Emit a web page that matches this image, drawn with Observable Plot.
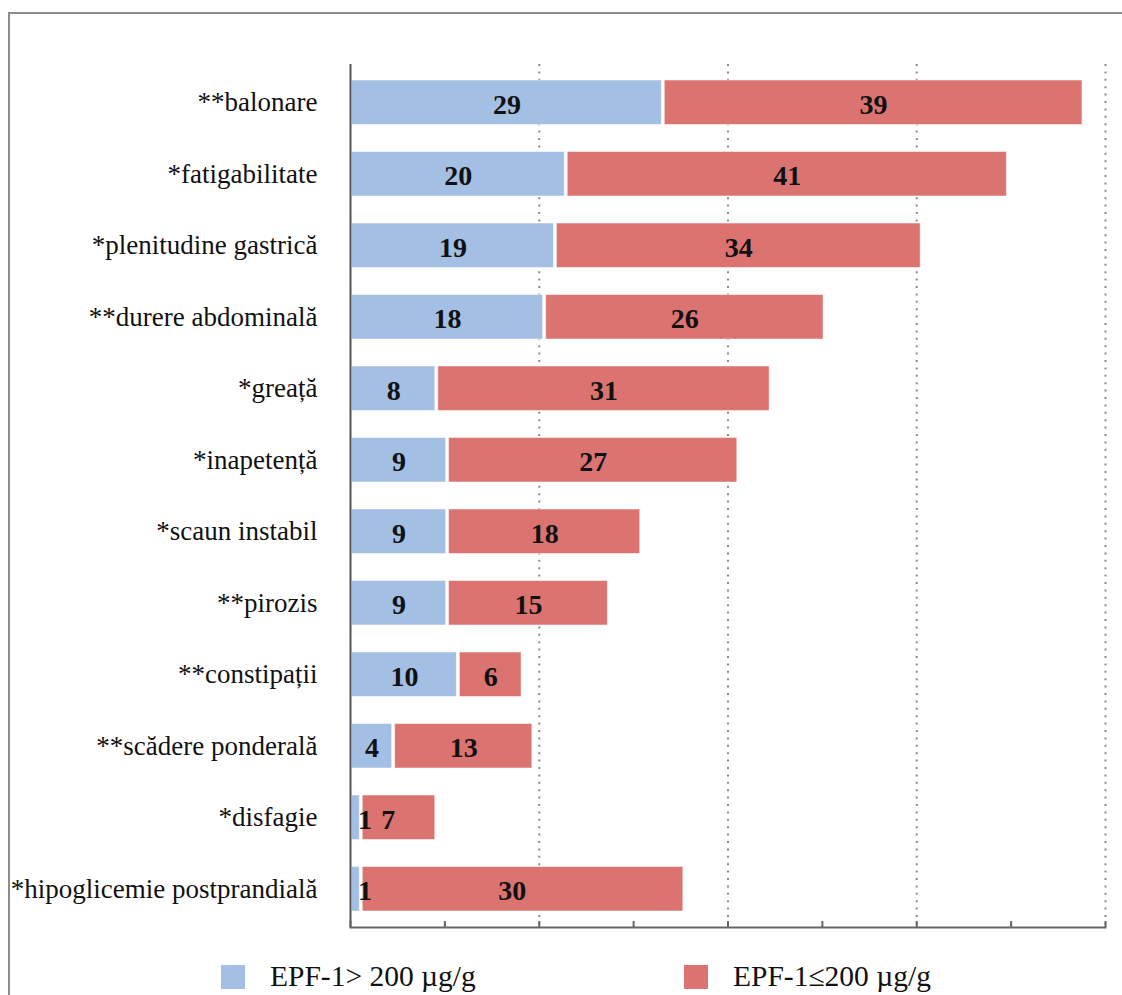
<!DOCTYPE html>
<html>
<head>
<meta charset="utf-8">
<script src="https://cdn.jsdelivr.net/npm/d3@7"></script>
<script src="https://cdn.jsdelivr.net/npm/@observablehq/plot@0.6"></script>
<style>
  html, body { margin: 0; padding: 0; background: #fff; }
  #wrap { position: relative; width: 1122px; height: 995px; overflow: hidden; font-family: "Liberation Serif", "Times New Roman", serif; }
  #frame { position: absolute; left: 8px; top: 12px; width: 1200px; height: 1100px; border-top: 2px solid #8c8c8c; border-left: 2px solid #8c8c8c; }
  #chart { position: absolute; left: 0; top: 0; }
  .key { position: absolute; top: 960px; display: flex; align-items: center; font-size: 29.5px; color: #111; white-space: nowrap; }
  .key .sw { width: 24px; height: 24px; margin-right: 25px; }
</style>
</head>
<body>
<div id="wrap">
  <div id="frame"></div>
  <div id="chart"></div>
  <div class="key" style="left:221px"><span class="sw" style="background:#a3bfe3"></span>EPF-1&gt; 200 µg/g</div>
  <div class="key" style="left:684px"><span class="sw" style="background:#db7471"></span>EPF-1≤200 µg/g</div>
</div>
<script>
// Symptoms, top to bottom
const symptoms = [
  "**balonare",
  "*fatigabilitate",
  "*plenitudine gastrică",
  "**durere abdominală",
  "*greață",
  "*inapetență",
  "*scaun instabil",
  "**pirozis",
  "**constipații",
  "**scădere ponderală",
  "*disfagie",
  "*hipoglicemie postprandială"
];
// Patient counts per group
const groups = ["EPF-1> 200 µg/g", "EPF-1≤200 µg/g"];
const countsHigh = [29, 20, 19, 18, 8, 9, 9, 9, 10, 4, 1, 1];
const countsLow = [39, 41, 34, 26, 31, 27, 18, 15, 6, 13, 7, 30];
const groupColors = ["#a3bfe3", "#db7471"];
// Axis extent and tick spacing of the value scale
const xMax = 70;
const majorTicks = [17.5, 35, 52.5, 70];
const allTicks = d3.range(0, xMax + 0.001, 8.75);

const rows = [];
symptoms.forEach((s, i) => {
  rows.push({symptom: s, group: groups[0], value: countsHigh[i]});
  rows.push({symptom: s, group: groups[1], value: countsLow[i]});
});

const serif = '"Liberation Serif", "Times New Roman", serif';
const stackOpts = {x: "value", y: "symptom", z: "group", order: groups};

const chart = Plot.plot({
  width: 1122,
  height: 940,
  marginTop: 64,
  marginBottom: 13,
  marginLeft: 350,
  marginRight: 17,
  style: {fontFamily: serif, background: "transparent"},
  x: {domain: [0, xMax], axis: null},
  y: {domain: symptoms, paddingInner: 0.378, paddingOuter: 0.224, round: false, label: null},
  color: {domain: groups, range: groupColors},
  marks: [
    // dotted vertical gridlines
    Plot.ruleX(majorTicks, {stroke: "#8a8a8a", strokeWidth: 2, strokeDasharray: "2,5.4"}),
    // stacked bars
    Plot.barX(rows, Plot.stackX({...stackOpts, fill: "group", insetLeft: 1.5, insetRight: 1.5, stroke: "#fff", strokeOpacity: 0.5, strokeWidth: 1})),
    // value labels
    Plot.text(rows, Plot.stackX({...stackOpts, filter: d => d.value >= 3, text: "value", fontFamily: serif, fontSize: 28, fontWeight: "bold", fill: "#111", dy: 2})),
    Plot.text(rows, Plot.stackX({...stackOpts, filter: d => d.value < 3, text: "value", fontFamily: serif, fontSize: 28, fontWeight: "bold", fill: "#111", dx: 9, dy: 2})),
    // axis lines and inward ticks
    Plot.ruleX([0], {stroke: "#555", strokeWidth: 2}),
    Plot.frame({anchor: "bottom", stroke: "#666", strokeWidth: 2}),
    Plot.ruleX(allTicks, {stroke: "#666", strokeWidth: 2, insetTop: 857}),
    Plot.axisY({tickSize: 0, tickPadding: 33, fontSize: 27, fontFamily: serif, fill: "#111"})
  ]
});
document.getElementById("chart").appendChild(chart);
</script>
</body>
</html>
